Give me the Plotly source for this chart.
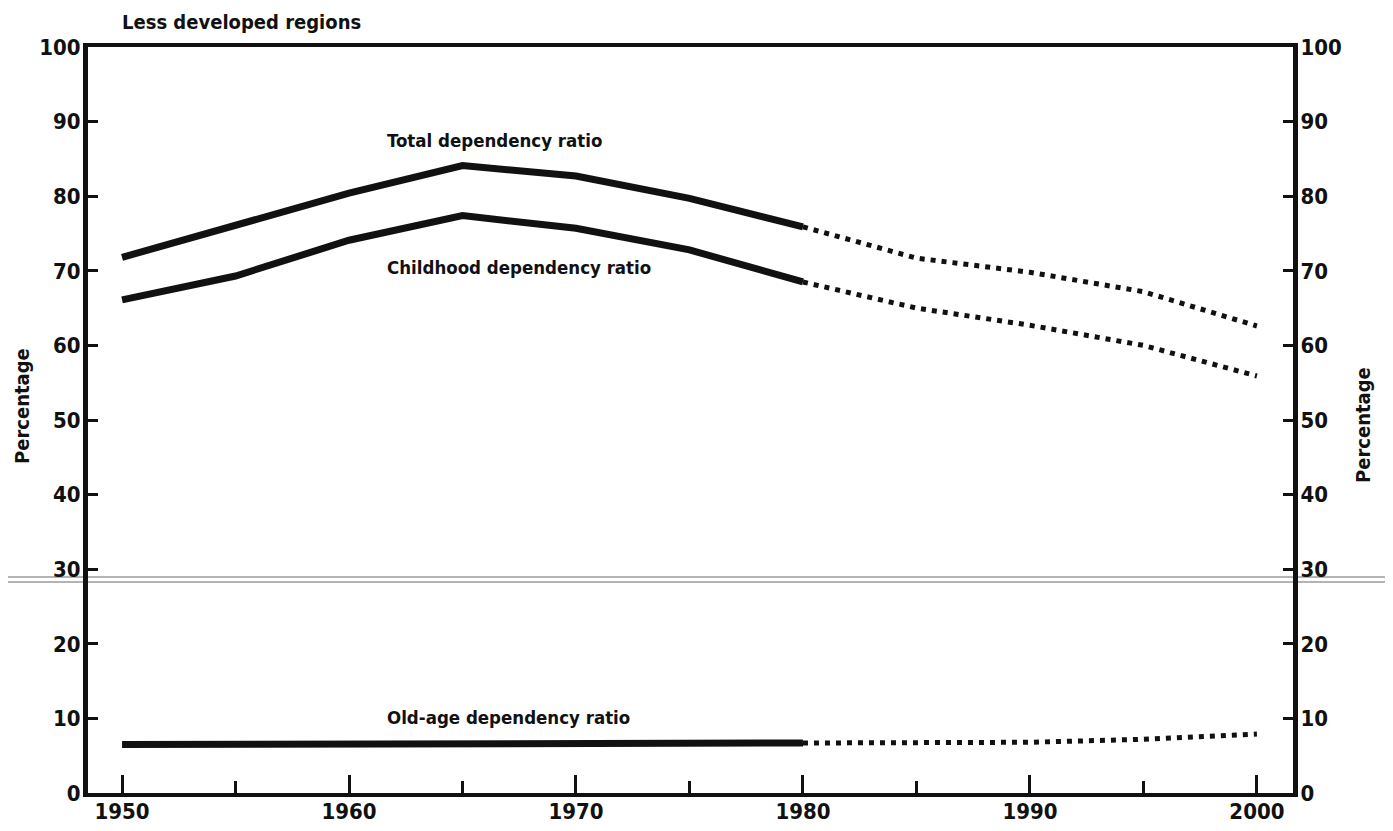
import plotly.graph_objects as go

# ---- data ----
years_obs = [1950, 1955, 1960, 1965, 1970, 1975, 1980]
years_proj = [1980, 1985, 1990, 1995, 2000]

total_obs = [71.8, 76.1, 80.4, 84.1, 82.7, 79.7, 75.9]
total_proj = [75.9, 71.7, 69.8, 67.2, 62.6]

child_obs = [66.1, 69.3, 74.1, 77.4, 75.7, 72.8, 68.5]
child_proj = [68.5, 65.0, 62.7, 60.0, 55.9]

old_obs = [6.5, 6.5, 6.5, 6.5, 6.6, 6.6, 6.7]
old_proj = [6.7, 6.7, 6.8, 7.2, 7.9]

x_ticks = [1950, 1960, 1970, 1980, 1990, 2000]
y_ticks = [0, 10, 20, 30, 40, 50, 60, 70, 80, 90, 100]

FONT = "Liberation Sans Narrow, DejaVu Sans Condensed, Arial Narrow, sans-serif"

fig = go.Figure()
for ys, yp in [(total_obs, total_proj), (child_obs, child_proj), (old_obs, old_proj)]:
    fig.add_trace(go.Scatter(x=years_obs, y=ys, mode="lines",
                             line=dict(color="#111111", width=7), showlegend=False,
                             hoverinfo="skip"))
    fig.add_trace(go.Scatter(x=years_proj, y=yp, mode="lines",
                             line=dict(color="#111111", width=5, dash="5px,6px"),
                             showlegend=False, hoverinfo="skip"))

# invisible trace on right axis
fig.add_trace(go.Scatter(x=[1950], y=[0], yaxis="y2", mode="markers",
                         marker=dict(opacity=0), showlegend=False, hoverinfo="skip"))

OFF = 8  # page body margin
W, H = 1393 - OFF, 831 - OFF
L, T = 88 - OFF, 47 - OFF
pw, ph = 1205, 746
R = W - L - pw
B = H - T - ph

def px(x):  # screen px -> paper
    return (x - OFF - L) / pw

def py(y):
    return (T + ph - (y - OFF)) / ph

tickfont = dict(family=FONT, size=22, color="#111111", weight="bold")

fig.update_layout(
    width=W, height=H,
    margin=dict(l=L, r=R, t=T, b=B, pad=0, autoexpand=False),
    paper_bgcolor="white", plot_bgcolor="white",
    xaxis=dict(range=[1948.5, 2001.59], tickvals=x_ticks, ticks="inside",
               ticklen=18, tickwidth=3, tickcolor="#111111",
               minor=dict(dtick=5, tick0=1950, ticks="inside", ticklen=12,
                          tickwidth=3, tickcolor="#111111", showgrid=False),
               showline=True, linewidth=4, linecolor="#111111", mirror=True,
               showgrid=False, zeroline=False, tickfont=tickfont,
               ticklabelstandoff=-4, automargin=False),
    yaxis=dict(range=[0, 100], tickvals=y_ticks, ticks="inside", ticklen=10,
               tickwidth=3, tickcolor="#111111", showline=True, linewidth=5,
               linecolor="#111111", showgrid=False, zeroline=False,
               tickfont=tickfont, ticklabelstandoff=-2, automargin=False),
    yaxis2=dict(range=[0, 100], tickvals=y_ticks, ticks="inside", ticklen=10,
                tickwidth=3, tickcolor="#111111", showline=True, linewidth=5,
                linecolor="#111111", showgrid=False, zeroline=False,
                overlaying="y", side="right", tickfont=tickfont,
                ticklabelstandoff=-2, automargin=False),
)

ann = []
ann.append(dict(text="<b>Less developed regions</b>", x=px(120), y=py(22),
                xref="paper", yref="paper", xanchor="left", yanchor="middle",
                showarrow=False, font=dict(family=FONT, size=20, color="#111111")))
for txt, yy in [("Total dependency ratio", 140), ("Childhood dependency ratio", 267),
                ("Old-age dependency ratio", 717)]:
    ann.append(dict(text="<b>" + txt + "</b>", x=px(385), y=py(yy), xref="paper",
                    yref="paper", xanchor="left", yanchor="middle", showarrow=False,
                    font=dict(family=FONT, size=18.5, color="#111111")))
ann.append(dict(text="<b>Percentage</b>", x=px(22), y=py(406), xref="paper",
                yref="paper", xanchor="center", yanchor="middle", textangle=-90,
                showarrow=False, font=dict(family=FONT, size=20, color="#111111")))
ann.append(dict(text="<b>Percentage</b>", x=px(1363), y=py(425), xref="paper",
                yref="paper", xanchor="center", yanchor="middle", textangle=-90,
                showarrow=False, font=dict(family=FONT, size=20, color="#111111")))
fig.update_layout(annotations=ann)

shapes = []
for yy in [577, 582]:
    shapes.append(dict(type="line", xref="paper", yref="paper", x0=px(0), x1=px(1393),
                       y0=py(yy), y1=py(yy), line=dict(color="#9a9a9a", width=1.5),
                       layer="below"))
fig.update_layout(shapes=shapes)

fig.write_html("out.html")
